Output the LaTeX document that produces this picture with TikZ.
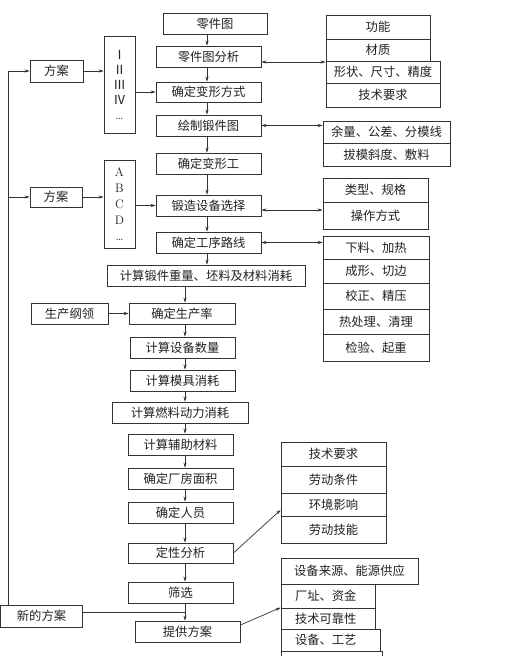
\documentclass[tikz,border=0pt]{standalone}
\usepackage{fontspec}
\newfontfamily\cjk{Noto Sans CJK SC}
\usetikzlibrary{arrows.meta,calc}
\definecolor{linec}{HTML}{333333}
\definecolor{textc}{HTML}{222222}
\tikzset{
 box/.style={draw=linec, line width=0.8pt, inner sep=0pt, minimum height=21pt, font=\cjk\fontsize{12.3}{14}\selectfont, text=textc, anchor=center},
 lbox/.style={box, inner xsep=14pt, align=left},
 arr/.style={draw=linec, line width=0.7pt, -{Stealth[length=5pt,width=3.2pt]}},
 darr/.style={draw=linec, line width=0.7pt, {Stealth[length=5pt,width=3.2pt]}-{Stealth[length=5pt,width=3.2pt]}},
 ln/.style={draw=linec, line width=0.7pt},
}
\begin{document}
\begin{tikzpicture}[x=1pt,y=-1pt]
\useasboundingbox (0,0) rectangle (509,656);
\fill[white] (0,0) rectangle (509,656);
\clip (0,0) rectangle (509,656);
\coordinate (xA) at (207,0);
\coordinate (xB) at (185,0);
\coordinate (xL) at (8,0);
% main column
\node[box, minimum width=104pt] (a1) at (215,23.5) {零件图};
\node[box, minimum width=105pt] (a2) at (208.5,56.5) {零件图分析};
\node[box, minimum width=105pt, minimum height=20pt] (a3) at (208.5,92) {确定变形方式};
\node[box, minimum width=105pt] (a4) at (208.5,125.5) {绘制锻件图};
\node[box, minimum width=105pt] (a5) at (208.5,163.5) {确定变形工};
\node[box, minimum width=105pt] (a6) at (208.5,205.5) {锻造设备选择};
\node[box, minimum width=105pt] (a7) at (208.5,242.5) {确定工序路线};
\node[box, minimum width=198pt] (a8) at (206,275.5) {计算锻件重量、坯料及材料消耗};
\node[box, minimum width=106pt] (a9) at (182,313.5) {确定生产率};
\node[box, minimum width=105pt] (a10) at (182.5,347.5) {计算设备数量};
\node[box, minimum width=105pt] (a11) at (182.5,380.5) {计算模具消耗};
\node[box, minimum width=136pt] (a12) at (180,412.5) {计算燃料动力消耗};
\node[box, minimum width=105pt] (a13) at (180.5,444.5) {计算辅助材料};
\node[box, minimum width=105pt] (a14) at (180.5,478.5) {确定厂房面积};
\node[box, minimum width=105pt] (a15) at (180.5,512.5) {确定人员};
\node[box, minimum width=105pt, minimum height=20pt] (a16) at (180.5,553) {定性分析};
\node[box, minimum width=105pt] (a17) at (180.5,592.5) {筛选};
\node[box, minimum width=105pt] (a18) at (187.5,631.5) {提供方案};
% left side
\node[box, minimum width=53pt, minimum height=22pt] (p1) at (56.5,71) {方案};
\node[box, minimum width=31pt, minimum height=97pt, align=center, font=\cjk\fontsize{12.5}{15}\selectfont] (r1) at (119.5,84.5) {Ⅰ\\Ⅱ\\Ⅲ\\Ⅳ\\{\rmfamily\ldots}};
\node[box, minimum width=52pt, minimum height=20pt] (p2) at (56,197) {方案};
\node[box, minimum width=31pt, minimum height=88pt, align=center, font=\rmfamily\fontsize{12.3}{16}\selectfont] (r2) at (119.5,204) {A\\B\\C\\D\\\ldots};
\node[box, minimum width=77pt] (s1) at (69.5,313.5) {生产纲领};
\node[box, minimum width=82pt, minimum height=22pt] (n1) at (41.5,616) {新的方案};
% right groups
\node[box, minimum width=104pt, minimum height=24pt] (g1a) at (378,27) {功能};
\node[box, minimum width=104pt, minimum height=22pt] (g1b) at (378,50) {材质};
\node[box, minimum width=114pt, minimum height=22pt] (g1c) at (383,72) {形状、尺寸、精度};
\node[box, minimum width=114pt, minimum height=24pt] (g1d) at (383,95) {技术要求};
\node[box, minimum width=127pt, minimum height=22pt] (g2a) at (386.5,132) {余量、公差、分模线};
\node[box, minimum width=127pt, minimum height=23pt] (g2b) at (386.5,154.5) {拔模斜度、敷料};
\node[box, minimum width=105pt, minimum height=24pt] (g3a) at (375.5,190) {类型、规格};
\node[box, minimum width=105pt, minimum height=27pt] (g3b) at (375.5,215.5) {操作方式};
\node[box, minimum width=106pt, minimum height=23pt] (g4a) at (376,247.5) {下料、加热};
\node[box, minimum width=106pt, minimum height=24pt] (g4b) at (376,271) {成形、切边};
\node[box, minimum width=106pt, minimum height=26pt] (g4c) at (376,296) {校正、精压};
\node[box, minimum width=106pt, minimum height=25pt] (g4d) at (376,321.5) {热处理、清理};
\node[box, minimum width=106pt, minimum height=27pt] (g4e) at (376,347.5) {检验、起重};
\node[box, minimum width=105pt, minimum height=24pt] (g5a) at (333.5,454) {技术要求};
\node[box, minimum width=105pt, minimum height=27pt] (g5b) at (333.5,479.5) {劳动条件};
\node[box, minimum width=105pt, minimum height=23pt] (g5c) at (333.5,504.5) {环境影响};
\node[box, minimum width=105pt, minimum height=27pt] (g5d) at (333.5,529.5) {劳动技能};
\node[box, minimum width=137pt, minimum height=26pt] (g6a) at (349.5,571) {设备来源、能源供应};
\node[lbox, text width=66pt, minimum height=24pt] (g6b) at (328,596) {厂址、资金};
\node[lbox, text width=66pt, minimum height=21pt] (g6c) at (328,618.5) {技术可靠性};
\node[lbox, text width=71pt, minimum height=22pt] (g6d) at (330.5,640) {设备、工艺};
\node[box, minimum width=101pt, minimum height=20pt] (g6e) at (331.5,661) {};
% main arrows
\foreach \u/\v in {a1/a2,a2/a3,a3/a4,a4/a5,a5/a6,a6/a7,a7/a8}
  \draw[arr] (\u.south -| xA) -- (\v.north -| xA);
\foreach \u/\v in {a8/a9,a9/a10,a10/a11,a11/a12,a12/a13,a13/a14,a14/a15,a15/a16,a16/a17,a17/a18}
  \draw[arr] (\u.south -| xB) -- (\v.north -| xB);
% left arrows
\draw[ln] (n1.north -| xL) -- (p1.west -| xL);
\draw[arr] (p1.west -| xL) -- (p1.west);
\draw[arr] (p2.west -| xL) -- (p2.west);
\draw[arr] (p1.east) -- (p1.east -| r1.west);
\draw[arr] (a3.west -| r1.east) -- (a3.west);
\draw[arr] (p2.east) -- (p2.east -| r2.west);
\draw[arr] (a6.west -| r2.east) -- (a6.west);
\draw[arr] (s1.east) -- (a9.west);
\draw[ln] ([yshift=4pt]n1.east) -- ([yshift=4pt]n1.east -| xB);
% right arrows
\draw[darr] ([yshift=-5.5pt]a2.east) -- ([yshift=-5.5pt]a2.east -| g1b.west);
\draw[darr] (a4.east) -- (a4.east -| g2a.west);
\draw[darr] ([yshift=-4.5pt]a6.east) -- ([yshift=-4.5pt]a6.east -| g3a.west);
\draw[darr] (a7.east) -- (a7.east -| g4a.west);
\draw[arr] (a16.east) -- ([yshift=-5.5pt]g5c.west);
\draw[arr] ([yshift=6.5pt]a18.east) -- (g6c.north west);
\end{tikzpicture}
\end{document}
